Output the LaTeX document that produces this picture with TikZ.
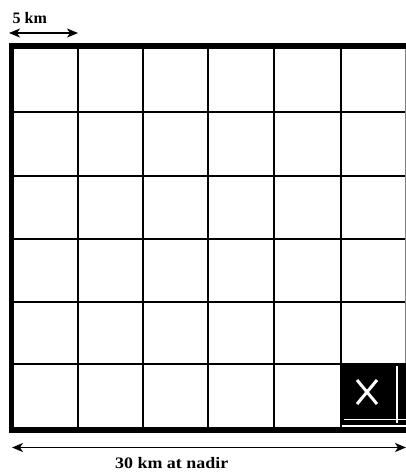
\documentclass[tikz,border=0pt]{standalone}
\usepackage{fontspec}
\setmainfont{Liberation Serif}
\usetikzlibrary{arrows.meta}
\begin{document}
\begin{tikzpicture}[x=1pt,y=-1pt,
  gridline/.style={line width=2.2pt,black},
  borderline/.style={line width=5.5pt,black},
  dimarrow/.style={line width=1.6pt,{Stealth[length=11pt,width=9pt,inset=3pt]}-{Stealth[length=11pt,width=9pt,inset=3pt]}},
  lbl/.style={font=\bfseries\fontsize{16}{16}\selectfont,inner sep=0pt}]
\useasboundingbox (0,0) rectangle (406,475);
% inner grid lines
\foreach \x in {78,143,208,274,341} \draw[gridline] (\x,46) -- (\x,430);
\foreach \y in {112,176,239,302,364} \draw[gridline] (11,\y) -- (406,\y);
% black cell
\fill[black] (341,363) rectangle (406,425);
\draw[white,line width=3pt] (357,380) -- (377,404) (377,380) -- (357,404);
\draw[white,line width=1.4pt] (397,366) -- (397,423);
\draw[white,line width=1.4pt] (344,419.5) -- (406,419.5);
% right thin edge
\draw[line width=1pt,gray] (405.5,46) -- (405.5,363);
% borders
\draw[borderline] (0,46) ++(11.5,0) -- (406,46);
\draw[borderline] (11.5,43.25) -- (11.5,432.75);
\draw[borderline] (9,430) -- (406,430);
% dimension arrows
\coordinate (a1) at (9,33);
\coordinate (a2) at (78,33);
\draw[dimarrow] (a1) -- (a2);
\node[lbl,anchor=base west] (t1) at (12.5,23) {5 km};
\coordinate (b1) at (12,447.5);
\coordinate (b2) at (406,447.5);
\draw[dimarrow] (b1) -- (b2);
\node[lbl,anchor=base west,xscale=1.12] (t2) at (115,468) {30 km at nadir};
\end{tikzpicture}
\end{document}
